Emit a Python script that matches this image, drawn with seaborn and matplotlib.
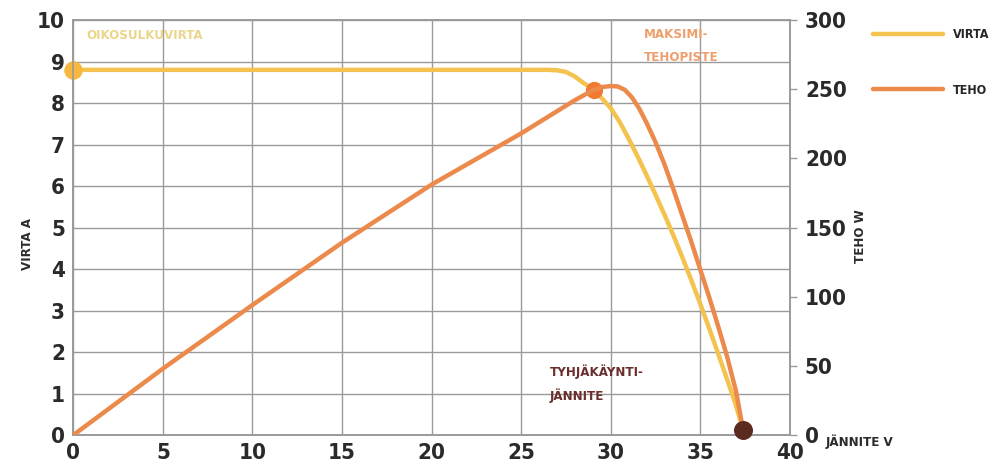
import matplotlib
matplotlib.use("Agg")
import matplotlib.pyplot as plt
import seaborn as sns
import pandas as pd

# ---- data ----
voltage_i = [0, 26.5, 27.0, 27.5, 28.0, 28.5, 29.05, 29.5, 30.0, 30.5, 31.0, 31.5, 32.0,
             32.5, 33.0, 33.5, 34.0, 34.5, 35.0, 35.5, 36.0, 36.5, 37.0, 37.4]
current = [8.8, 8.8, 8.79, 8.75, 8.64, 8.48, 8.31, 8.12, 7.88, 7.55, 7.15, 6.72, 6.27,
           5.80, 5.32, 4.82, 4.29, 3.74, 3.17, 2.58, 1.97, 1.35, 0.72, 0.12]

voltage_p = [0, 5, 10, 15, 20, 25, 26, 27, 28, 29.05, 29.5, 30.0, 30.4, 30.8, 31.2, 31.6,
             32.0, 32.5, 33.0, 33.5, 34.0, 34.5, 35.0, 35.5, 36.0, 36.5, 37.0, 37.4]
power = [0, 48, 94, 139, 181, 218, 226, 234, 242, 249.5, 251.5, 252.3, 252, 249.5, 244, 236,
         226, 212, 196, 178, 159, 140, 120, 100, 79, 57, 32, 4]

key_v = [0, 29.05, 37.4]
key_i = [8.8, 8.31, 0.12]
key_names = ["OIKOSULKUVIRTA", "MAKSIMI-\nTEHOPISTE", "TYHJÄKÄYNTI-\nJÄNNITE"]

x_ticks = [0, 5, 10, 15, 20, 25, 30, 35, 40]
left_ticks = [0, 1, 2, 3, 4, 5, 6, 7, 8, 9, 10]
right_ticks = [0, 50, 100, 150, 200, 250, 300]

df_i = pd.DataFrame({"V": voltage_i, "I": current})
df_p = pd.DataFrame({"V": voltage_p, "P": power})

sns.set_theme(style="white")
plt.rcParams['font.family'] = ['DejaVu Sans']
plt.rcParams['font.stretch'] = 'condensed'

YEL = "#F4C24E"
ORA = "#EC8A4C"
DOT0 = "#F6B83E"
DOTM = "#F07B30"
DOTE = "#5A2B1E"
GRID = "#9a9a9a"
TXT = "#2a2a2a"

fig = plt.figure(figsize=(9.92, 4.66), dpi=100)
ax = fig.add_axes([0.074, 0.0665, 0.722, 0.8905])
ax2 = ax.twinx()

ax.set_xlim(0, 40)
ax.set_ylim(0, 10)
ax2.set_ylim(0, 300)

ax.set_xticks(x_ticks)
ax.set_yticks(left_ticks)
ax2.set_yticks(right_ticks)
ax.grid(True, color=GRID, lw=1.0)
ax.set_axisbelow(True)

for s in list(ax.spines.values()) + list(ax2.spines.values()):
    s.set_color(GRID)
    s.set_linewidth(1.2)

sns.lineplot(data=df_i, x="V", y="I", ax=ax, color=YEL, lw=3.2, label="VIRTA",
             legend=False, zorder=3)
sns.lineplot(data=df_p, x="V", y="P", ax=ax2, color=ORA, lw=3.2, label="TEHO",
             legend=False, zorder=3)
for ln in ax.get_lines() + ax2.get_lines():
    ln.set_solid_joinstyle("round")
    ln.set_solid_capstyle("round")

ax.scatter([key_v[0]], [key_i[0]], s=150, color=DOT0, zorder=5, clip_on=False)
ax.scatter([key_v[1]], [key_i[1]], s=130, color=DOTM, zorder=5, clip_on=False)
ax2.scatter([key_v[2]], [key_i[2] * 30], s=160, color=DOTE, zorder=6, clip_on=False)

ax.tick_params(axis="both", labelsize=16, colors=TXT, length=0, pad=6)
ax2.tick_params(axis="y", labelsize=16, colors=TXT, length=5, width=1, color=GRID, pad=6)
for lab in ax.get_xticklabels() + ax.get_yticklabels() + ax2.get_yticklabels():
    lab.set_fontweight("bold")
    lab.set_fontstretch("condensed")

ax.set_xlabel("")
ax.set_ylabel("VIRTA A", fontsize=9.5, fontweight="bold", color=TXT)
ax.yaxis.set_label_coords(-0.055, 0.46)
ax2.set_ylabel("TEHO W", fontsize=9.5, fontweight="bold", color=TXT, rotation=90)
ax2.yaxis.set_label_coords(1.09, 0.48)
ax.text(1.05, -0.016, "JÄNNITE V", transform=ax.transAxes, fontsize=9.5,
        fontweight="bold", color=TXT, ha="left", va="center")

ax.text(0.7, 9.78, key_names[0], fontsize=9.5, fontweight="bold", color="#EAD58A",
        ha="left", va="top")
ax.text(31.85, 9.8, key_names[1], fontsize=9.5, fontweight="bold", color="#EE9E6C",
        ha="left", va="top", linespacing=2.0)
ax.text(26.6, 1.7, key_names[2], fontsize=9.5, fontweight="bold", color="#6A2E2C",
        ha="left", va="top", linespacing=1.8)

handles = [ax.get_lines()[0], ax2.get_lines()[0]]
fig.legend(handles, ["VIRTA", "TEHO"], loc="upper left", bbox_to_anchor=(0.874, 0.953),
           frameon=False, handlelength=5.6, handletextpad=0.75,
           labelspacing=3.4, borderpad=0, prop={"weight": "bold", "size": 9,
                                                "stretch": "condensed"})

fig.savefig("out.png", dpi=100, facecolor="white")
